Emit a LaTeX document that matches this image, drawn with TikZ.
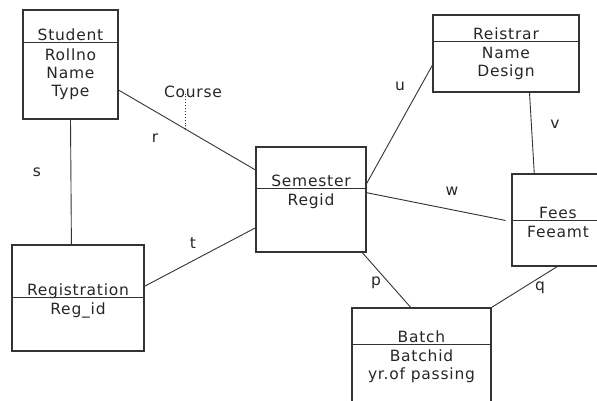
\documentclass[tikz,border=0pt]{standalone}
\usepackage{fontspec}
\setmainfont{DejaVu Sans}[LetterSpace=5]
\colorlet{myline}{black!80}
\colorlet{mytext}{black!85}

\tikzset{
  entity/.style={draw=myline, line width=1.2pt, inner sep=0},
  divider/.style={draw=myline, line width=1pt},
  title/.style={anchor=base, inner sep=0, text=mytext, font=\fontsize{15.5}{18}\selectfont},
  attrs/.style={anchor=north, inner sep=0, align=center, text=mytext, font=\fontsize{15.5}{18}\selectfont},
  rel/.style={draw=myline, line width=0.9pt},
  lbl/.style={inner sep=0, text=mytext, font=\fontsize{15.5}{18}\selectfont}
}

\begin{document}
\begin{tikzpicture}[x=1pt,y=-1pt]
\useasboundingbox (0,0) rectangle (597,401);

% entities
\node[entity, minimum width=95pt, minimum height=109pt] (student) at (70.5,64.5) {};
\node[title] (student title) at (70.5,41) {Student};
\draw[divider] (student.west |- 0,43) -- (student.east |- 0,43);
\node[attrs] (student attrs) at (70.5,48.5) {Rollno\\Name\\Type};

\node[entity, minimum width=146pt, minimum height=77pt] (reistrar) at (506,53.5) {};
\node[title] (reistrar title) at (506,40) {Reistrar};
\draw[divider] (reistrar.west |- 0,42) -- (reistrar.east |- 0,42);
\node[attrs] (reistrar attrs) at (506,47.5) {Name\\Design};

\node[entity, minimum width=110pt, minimum height=105pt] (semester) at (311,199.5) {};
\node[title] (semester title) at (311,186.5) {Semester};
\draw[divider] (semester.west |- 0,188) -- (semester.east |- 0,188);
\node[attrs] (semester attrs) at (311,193.5) {Regid};

\node[entity, minimum width=92pt, minimum height=92pt] (fees) at (558,220) {};
\node[title] (fees title) at (558,218.5) {Fees};
\draw[divider] (fees.west |- 0,220) -- (fees.east |- 0,220);
\node[attrs] (fees attrs) at (558,225.5) {Feeamt};

\node[entity, minimum width=132pt, minimum height=106pt] (registration) at (78,298) {};
\node[title] (registration title) at (78,295.5) {Registration};
\draw[divider] (registration.west |- 0,297) -- (registration.east |- 0,297);
\node[attrs] (registration attrs) at (78,302.5) {Reg\_id};

\node[entity, minimum width=139pt, minimum height=110pt] (batch) at (421.5,363) {};
\node[title] (batch title) at (421.5,342.5) {Batch};
\draw[divider] (batch.west |- 0,344) -- (batch.east |- 0,344);
\node[attrs] (batch attrs) at (421.5,349.5) {Batchid\\yr.of passing};

% relationships
\draw[rel] (student.-28) -- coordinate[pos=0.49] (course pt) (semester.152);
\draw[rel] (student.south) -- (registration.97);
\draw[rel] (registration.10) -- (semester.207);
\draw[rel] (semester.16) -- (reistrar.189);
\draw[rel] (reistrar.-59) -- (fees.117);
\draw[rel, shorten >=6pt] (semester.7) -- (fees.182);
\draw[rel] (semester.-46) -- (batch.101);
\draw[rel] (fees.-91) -- (batch.north east);

% labels
\node[lbl] (course) at (193,92) {Course};
\draw[rel, dotted] (course pt) -- (course pt |- course.south) [shorten >=-4pt];
\node[lbl] (r) at (155,138) {r};
\node[lbl] (s) at (37,172) {s};
\node[lbl] (t) at (193,243) {t};
\node[lbl] (u) at (400,86) {u};
\node[lbl] (v) at (555,124) {v};
\node[lbl] (w) at (452,191) {w};
\node[lbl] (p) at (376,283) {p};
\node[lbl] (q) at (540,288) {q};
\end{tikzpicture}
\end{document}
